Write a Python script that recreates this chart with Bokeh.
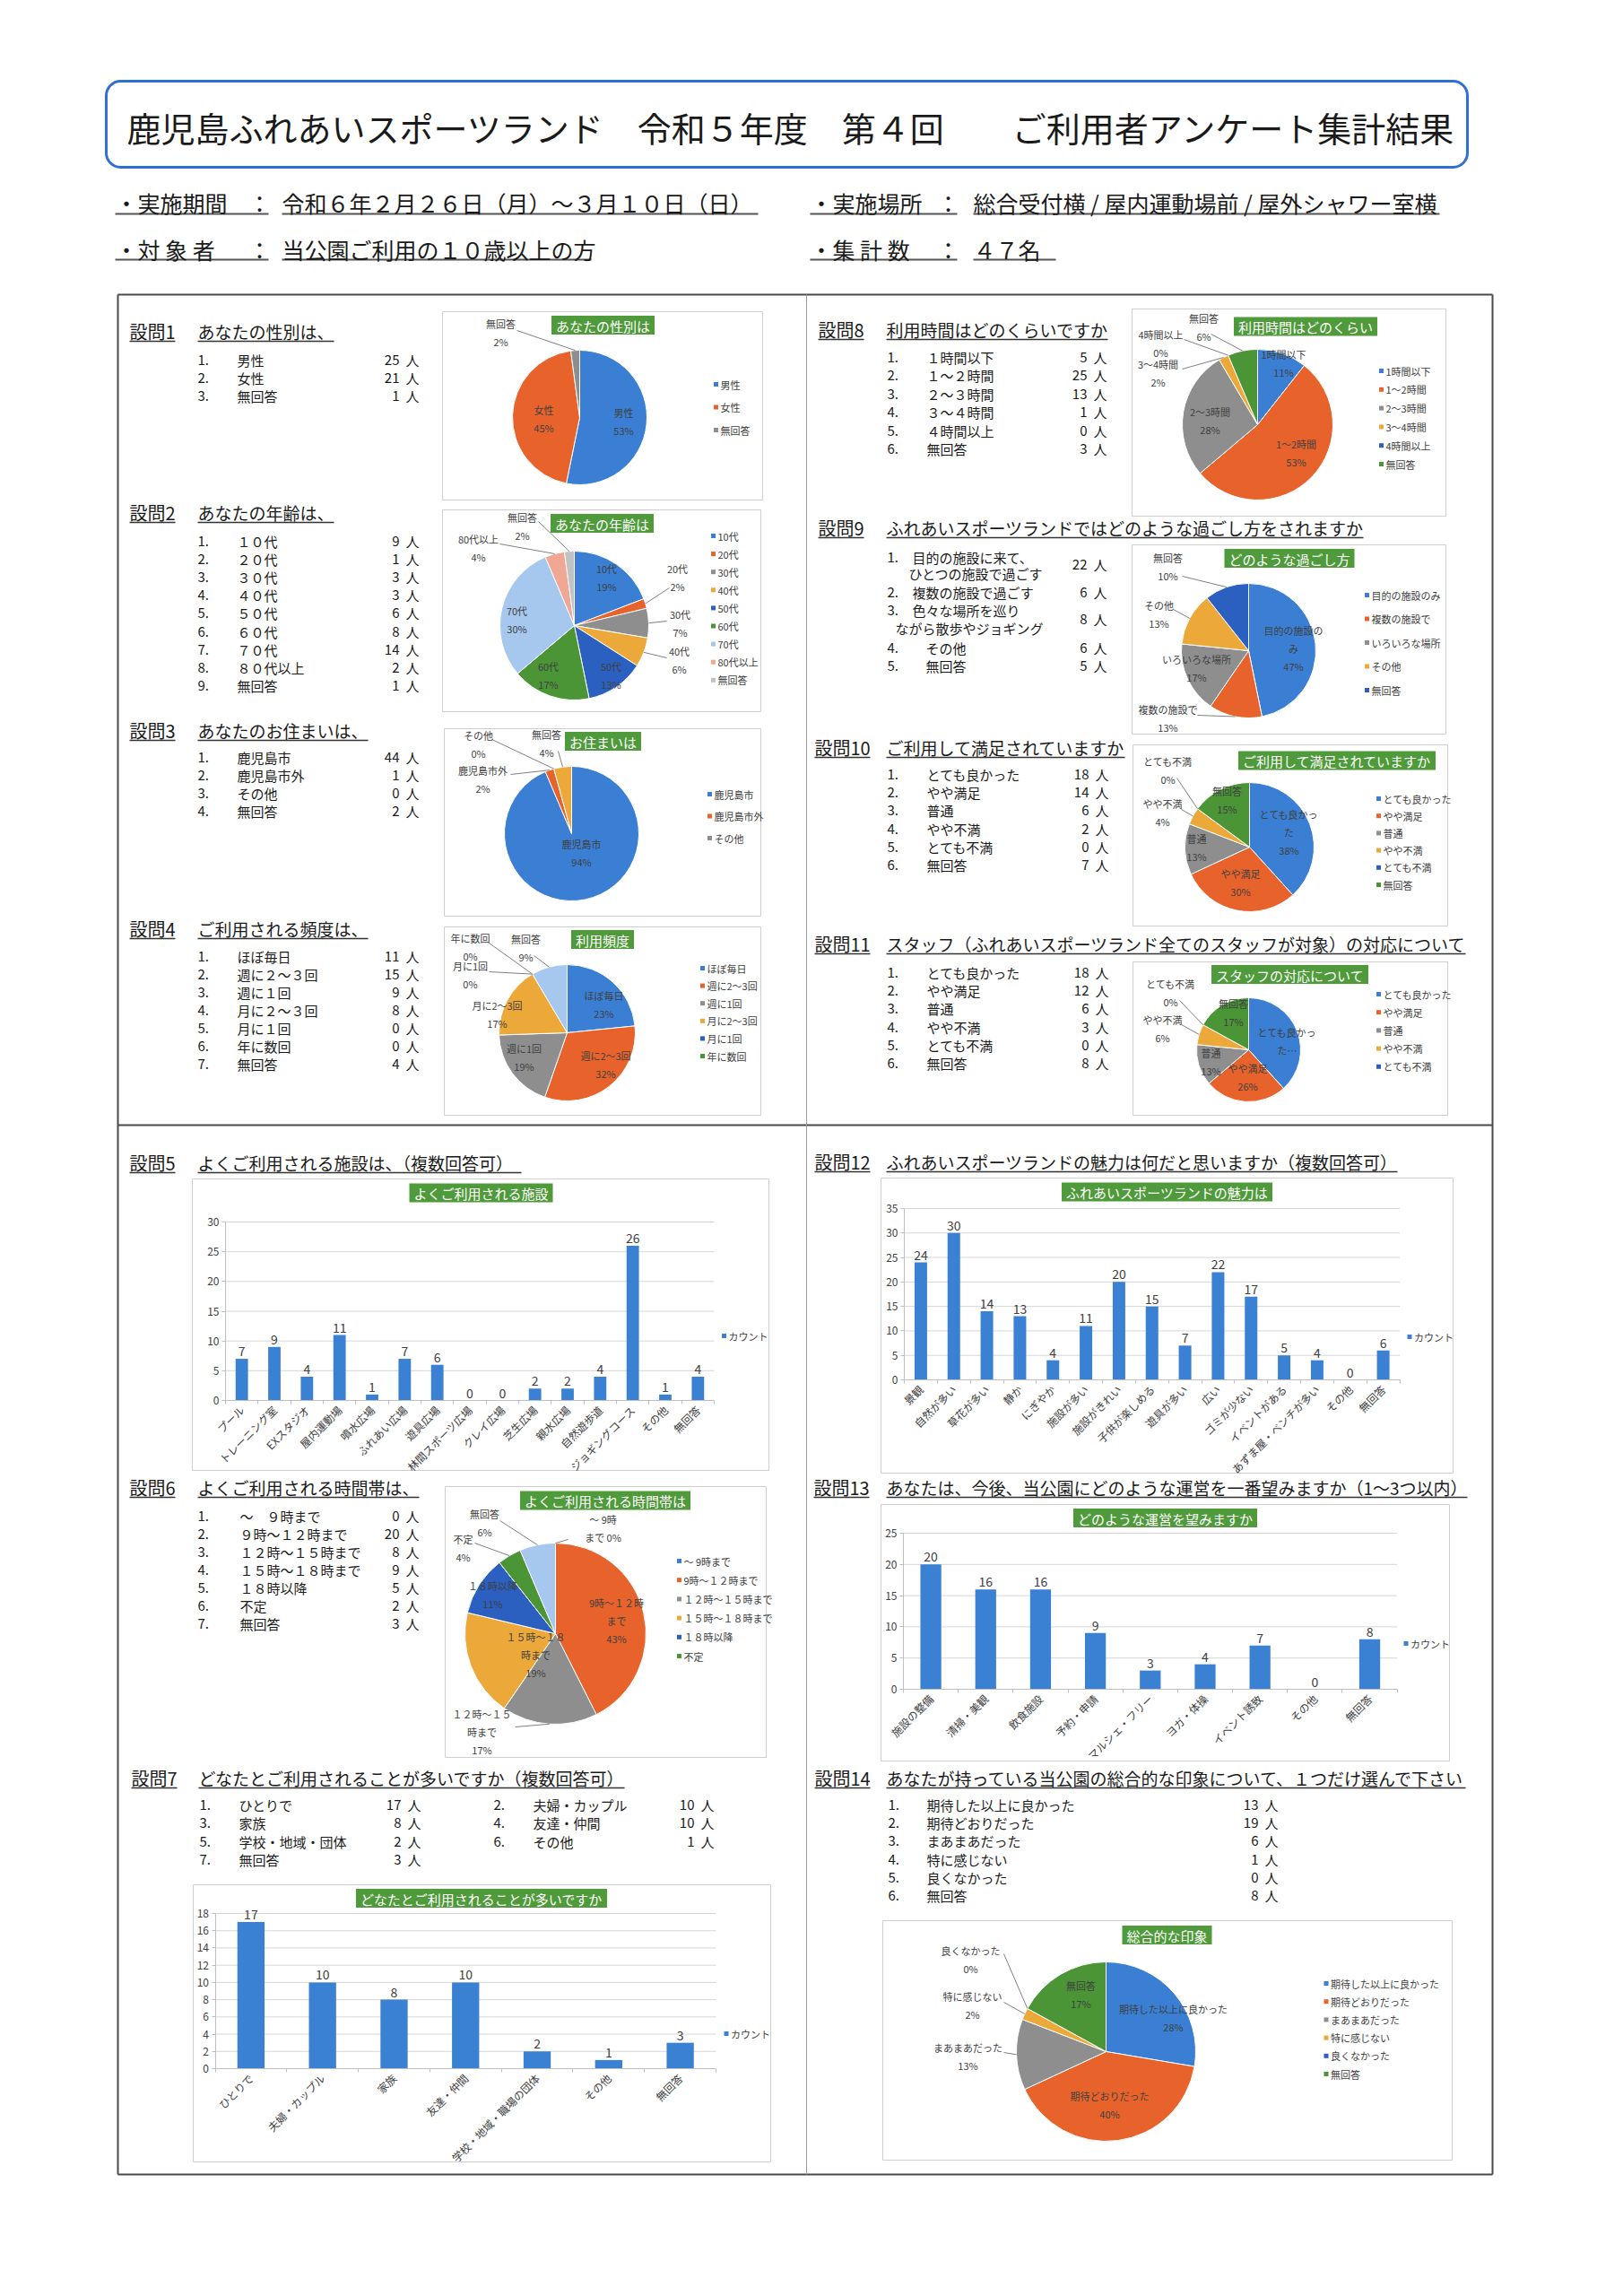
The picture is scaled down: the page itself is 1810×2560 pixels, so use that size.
import math
from collections import defaultdict
from bokeh.plotting import figure
from bokeh.models import Range1d, LinearAxis, FixedTicker, BoxAnnotation, ColumnDataSource
from bokeh.core.properties import value
from bokeh.embed import file_html
from bokeh.resources import INLINE

# ======================= DATA =======================
title_text = "鹿児島ふれあいスポーツランド　令和５年度　第４回　　ご利用者アンケート集計結果"
info_labels = ["・実施期間", "・対 象 者", "・実施場所", "・集 計 数"]
info_values = ["令和６年２月２６日（月）～３月１０日（日）", "当公園ご利用の１０歳以上の方",
               "総合受付横 / 屋内運動場前 / 屋外シャワー室横", "４７名"]

q_heads = {
    "q1": ("設問1", "あなたの性別は、"),
    "q2": ("設問2", "あなたの年齢は、"),
    "q3": ("設問3", "あなたのお住まいは、"),
    "q4": ("設問4", "ご利用される頻度は、"),
    "q5": ("設問5", "よくご利用される施設は、（複数回答可）"),
    "q6": ("設問6", "よくご利用される時間帯は、"),
    "q7": ("設問7", "どなたとご利用されることが多いですか（複数回答可）"),
    "q8": ("設問8", "利用時間はどのくらいですか"),
    "q9": ("設問9", "ふれあいスポーツランドではどのような過ごし方をされますか"),
    "q10": ("設問10", "ご利用して満足されていますか"),
    "q11": ("設問11", "スタッフ（ふれあいスポーツランド全てのスタッフが対象）の対応について"),
    "q12": ("設問12", "ふれあいスポーツランドの魅力は何だと思いますか（複数回答可）"),
    "q13": ("設問13", "あなたは、今後、当公園にどのような運営を一番望みますか（1～3つ以内）"),
    "q14": ("設問14", "あなたが持っている当公園の総合的な印象について、１つだけ選んで下さい"),
}

chart_titles = {
    "q1": "あなたの性別は", "q2": "あなたの年齢は", "q3": "お住まいは", "q4": "利用頻度",
    "q5": "よくご利用される施設", "q6": "よくご利用される時間帯は",
    "q7": "どなたとご利用されることが多いですか", "q8": "利用時間はどのくらい",
    "q9": "どのような過ごし方", "q10": "ご利用して満足されていますか",
    "q11": "スタッフの対応について", "q12": "ふれあいスポーツランドの魅力は",
    "q13": "どのような運営を望みますか", "q14": "総合的な印象",
}

q1_labels = ["男性", "女性", "無回答"]
q1_counts = [25, 21, 1]

q2_items = ["１０代", "２０代", "３０代", "４０代", "５０代", "６０代", "７０代", "８０代以上", "無回答"]
q2_labels = ["10代", "20代", "30代", "40代", "50代", "60代", "70代", "80代以上", "無回答"]
q2_counts = [9, 1, 3, 3, 6, 8, 14, 2, 1]

q3_labels = ["鹿児島市", "鹿児島市外", "その他", "無回答"]
q3_counts = [44, 1, 0, 2]

q4_items = ["ほぼ毎日", "週に２～３回", "週に１回", "月に２～３回", "月に１回", "年に数回", "無回答"]
q4_labels = ["ほぼ毎日", "週に2～3回", "週に1回", "月に2～3回", "月に1回", "年に数回", "無回答"]
q4_counts = [11, 15, 9, 8, 0, 0, 4]

q5_cats = ["プール", "トレーニング室", "EXスタジオ", "屋内運動場", "噴水広場", "ふれあい広場", "遊具広場",
           "林間スポーツ広場", "クレイ広場", "芝生広場", "親水広場", "自然遊歩道", "ジョギングコース",
           "その他", "無回答"]
q5_counts = [7, 9, 4, 11, 1, 7, 6, 0, 0, 2, 2, 4, 26, 1, 4]

q6_items = ["～　９時まで", "９時～１２時まで", "１２時～１５時まで", "１５時～１８時まで", "１８時以降", "不定", "無回答"]
q6_labels = ["～ 9時まで", "9時～１２時まで", "１２時～１５時まで", "１５時～１８時まで", "１８時以降", "不定", "無回答"]
q6_counts = [0, 20, 8, 9, 5, 2, 3]

q7_items = ["ひとりで", "夫婦・カップル", "家族", "友達・仲間", "学校・地域・団体", "その他", "無回答"]
q7_cats = ["ひとりで", "夫婦・カップル", "家族", "友達・仲間", "学校・地域・職場の団体", "その他", "無回答"]
q7_counts = [17, 10, 8, 10, 2, 1, 3]

q8_items = ["１時間以下", "１～２時間", "２～３時間", "３～４時間", "４時間以上", "無回答"]
q8_labels = ["1時間以下", "1～2時間", "2～3時間", "3～4時間", "4時間以上", "無回答"]
q8_counts = [5, 25, 13, 1, 0, 3]

q9_items = ["目的の施設に来て、\nひとつの施設で過ごす", "複数の施設で過ごす", "色々な場所を巡り\nながら散歩やジョギング", "その他", "無回答"]
q9_labels = ["目的の施設のみ", "複数の施設で", "いろいろな場所", "その他", "無回答"]
q9_counts = [22, 6, 8, 6, 5]

q10_labels = ["とても良かった", "やや満足", "普通", "やや不満", "とても不満", "無回答"]
q10_counts = [18, 14, 6, 2, 0, 7]

q11_labels = ["とても良かった", "やや満足", "普通", "やや不満", "とても不満", "無回答"]
q11_counts = [18, 12, 6, 3, 0, 8]

q12_cats = ["景観", "自然が多い", "草花が多い", "静か", "にぎやか", "施設が多い", "施設がきれい",
            "子供が楽しめる", "遊具が多い", "広い", "ゴミが少ない", "イベントがある",
            "あずま屋・ベンチが多い", "その他", "無回答"]
q12_counts = [24, 30, 14, 13, 4, 11, 20, 15, 7, 22, 17, 5, 4, 0, 6]

q13_cats = ["施設の整備", "清掃・美観", "飲食施設", "予約・申請", "マルシェ・フリー", "ヨガ・体操",
            "イベント誘致", "その他", "無回答"]
q13_counts = [20, 16, 16, 9, 3, 4, 7, 0, 8]

q14_labels = ["期待した以上に良かった", "期待どおりだった", "まあまあだった", "特に感じない", "良くなかった", "無回答"]
q14_counts = [13, 19, 6, 1, 0, 8]

bar_legend_label = "カウント"
unit = "人"

# ======================= STYLE / LAYOUT =======================
FONT = "Noto Sans CJK JP"
TEXT = "#1a1a1a"
LABEL = "#404040"
GREEN = "#4f9a3a"
BAR = "#3a80d3"
PIE_COLORS = ["#3a7fd3", "#e8632b", "#8e8e8e", "#eda83a", "#2b5fc0", "#4b9537",
              "#a6c7ee", "#f0a794", "#c2c2c2"]

W, H = 1794, 2544
X0, Y0 = 0, 0
X1, Y1 = X0 + W, Y0 + H


def Y(py):
    return (Y0 + Y1) - py


PIE_LAYOUT = {
    "q1": dict(box=(493, 347, 850, 557), title_c=(672, 362), center=(646, 465), r=75,
               legend=(798, 428, 25.5), legend_n=3,
               labels=[(695, 469), (606, 466), (558, 370)], leaders={2: (576, 368)}),
    "q2": dict(box=(493, 568, 848, 793), title_c=(671, 583), center=(640, 697), r=83,
               legend=(795, 597, 20.1), legend_n=9,
               labels=[(676, 643), (755, 643), (758, 694), (757, 735), (681, 752), (611, 752),
                       (576, 690), (533, 610), (582, 586)],
               leaders={1: (746, 655), 2: (743, 692), 3: (743, 733), 7: (557, 606), 8: (600, 581)}),
    "q3": dict(box=(495, 812, 848, 1021), title_c=(672, 826), center=(637, 929), r=75,
               legend=(791, 885, 24.5), legend_n=3,
               labels=[(648, 950), (538, 868), (533, 829), (609, 828)],
               leaders={1: (569, 863), 2: (548, 824), 3: (622, 837)}),
    "q4": dict(box=(495, 1033, 848, 1243), title_c=(671.5, 1047), center=(632, 1151), r=76,
               legend=(783, 1079, 19.6), legend_n=6,
               labels=[(673, 1119), (675, 1186), (584, 1178), (554, 1130), (524, 1086),
                       (524, 1055), (586, 1056)],
               leaders={4: (545, 1083), 5: (545, 1051), 6: (595, 1065)}),
    "q6": dict(box=(496, 1657, 854, 1959), title_c=(674.5, 1672.5), center=(619, 1821), r=101,
               legend=(757, 1740, 21.2), legend_n=6, wrap=6,
               override={0: "～ 9時\nまで {p}%"},
               labels=[(672, 1703), (687, 1806), (537, 1930), (597, 1844), (549, 1777),
                       (516, 1725), (540, 1697)],
               leaders={0: (633, 1716), 2: (574, 1925), 5: (529, 1720), 6: (557, 1695)}),
    "q8": dict(box=(1262, 344, 1612, 575), title_c=(1455.5, 363.5), center=(1402, 473), r=84,
               legend=(1540, 413, 20.8), legend_n=6,
               labels=[(1431, 404), (1445, 504), (1349, 468), (1291, 415), (1294, 382), (1342, 364)],
               leaders={3: (1318, 411), 4: (1320, 378), 5: (1350, 372)}),
    "q9": dict(box=(1262, 607, 1612, 818), title_c=(1437.5, 622), center=(1392, 725), r=75,
               legend=(1524, 663, 26.5), legend_n=5,
               override={0: "目的の施設の\nみ\n{p}%"},
               labels=[(1442, 722), (1302, 800), (1334, 744), (1292, 684), (1302, 631)],
               leaders={1: (1335, 797), 3: (1308, 679), 4: (1318, 642)}),
    "q10": dict(box=(1263, 830, 1614, 1032), title_c=(1490.5, 847.5), center=(1393, 944), r=72,
                legend=(1537, 890, 19.2), legend_n=6, wrap=6,
                labels=[(1437, 927), (1383, 983), (1334, 944), (1296, 905), (1302, 858), (1368, 891)],
                leaders={3: (1317, 902), 4: (1312, 867)}),
    "q11": dict(box=(1263, 1072, 1614, 1243), title_c=(1438, 1086), center=(1392, 1170), r=58,
                legend=(1537, 1108, 20.2), legend_n=5, wrap=6,
                override={0: "とても良かっ\nた…"},
                labels=[(1435, 1160), (1391, 1200), (1350, 1183), (1296, 1146), (1305, 1106), (1375, 1128)],
                leaders={3: (1317, 1142), 4: (1315, 1115)}),
    "q14": dict(box=(984, 2141, 1619, 2408), title_c=(1301, 2157), center=(1233, 2287), r=100,
                legend=(1478.5, 2211, 20.2), legend_n=6,
                labels=[(1308, 2249), (1237, 2346), (1079, 2292), (1084, 2235), (1082, 2184), (1205, 2223)],
                leaders={2: (1119, 2288), 3: (1119, 2232), 4: (1119, 2178)}),
}

BAR_LAYOUT = {
    "q5": dict(box=(214, 1314, 857, 1639), title_c=(536, 1329.5), plot=(251, 1362, 796, 1561),
               vmax=30, step=5, legend=(807, 1489)),
    "q7": dict(box=(215, 2101, 859, 2410), title_c=(536.5, 2116), plot=(239.5, 2133, 798, 2306),
               vmax=18, step=2, legend=(809.5, 2267)),
    "q12": dict(box=(982, 1313, 1620, 1642), title_c=(1301, 1328.5), plot=(1008, 1347, 1560.5, 1538),
                vmax=35, step=5, legend=(1571.5, 1490)),
    "q13": dict(box=(982, 1677, 1616, 1963), title_c=(1299, 1692), plot=(1007, 1709, 1557.6, 1883),
                vmax=25, step=5, legend=(1567.5, 1832)),
}

HEAD_POS = {
    "q1": (144, 220, 369), "q2": (144, 220, 571), "q3": (144, 220, 814), "q4": (144, 220, 1035),
    "q5": (144, 220, 1296), "q6": (144, 220, 1658), "q7": (146, 221, 1982),
    "q8": (912, 988, 367), "q9": (912, 988, 588), "q10": (908, 988, 833), "q11": (908, 988, 1052),
    "q12": (908, 988, 1295), "q13": (907, 988, 1658), "q14": (908, 988, 1982),
}

# ======================= FIGURE =======================
p = figure(width=W, height=H, x_range=Range1d(X0, X1), y_range=Range1d(Y0, Y1),
           output_backend="svg", toolbar_location=None, tools="",
           x_axis_type=None, y_axis_type=None, min_border=0, title=None)
p.outline_line_color = None
p.background_fill_color = "white"
p.border_fill_color = "white"

TXT = defaultdict(lambda: {"x": [], "y": [], "text": []})
LNS = defaultdict(lambda: {"x0": [], "y0": [], "x1": [], "y1": []})
BOXES = {"l": [], "r": [], "t": [], "b": []}
GRECT = {"x": [], "y": [], "w": [], "h": []}
SQ = {"x": [], "y": [], "c": []}
EXTRA_X, EXTRA_Y = {}, {}


def T(x, y, s, size, color=TEXT, align="left", baseline="middle", style="normal", lh=1.2):
    d = TXT[(size, color, align, baseline, style, lh)]
    d["x"].append(x)
    d["y"].append(Y(y))
    d["text"].append(s)


def LN(x0, y0, x1, y1, color="#555555", width=1.0):
    d = LNS[(color, width)]
    d["x0"].append(x0); d["y0"].append(Y(y0)); d["x1"].append(x1); d["y1"].append(Y(y1))


def est_w(s, size):
    w = 0.0
    for ch in s:
        if ch.isdigit() and ord(ch) < 128:
            w += 0.55
        elif ch == " ":
            w += 0.23
        elif ch in ".,":
            w += 0.28
        elif ord(ch) < 128:
            w += 0.6
        else:
            w += 1.0
    return w * size


def pct_round(counts):
    tot = sum(counts)
    raw = [c * 100.0 / tot for c in counts]
    fl = [math.floor(r) for r in raw]
    rem = 100 - sum(fl)
    order = sorted(range(len(counts)), key=lambda i: -(raw[i] - fl[i]))
    for i in order[:rem]:
        fl[i] += 1
    return fl


def wrap(s, w):
    return "\n".join(s[i:i + w] for i in range(0, len(s), w))


def chart_box(box, title, tc):
    l, t, r, b = box
    BOXES["l"].append(l); BOXES["r"].append(r); BOXES["t"].append(Y(t)); BOXES["b"].append(Y(b))
    w = len(title) * 15 + 10
    GRECT["x"].append(tc[0]); GRECT["y"].append(Y(tc[1])); GRECT["w"].append(w); GRECT["h"].append(21)
    T(tc[0], tc[1] + 0.5, title, 15, color="white", align="center")


def heading(key):
    num, text = q_heads[key]
    xn, xt, y = HEAD_POS[key]
    T(xn, y, num, 20)
    T(xt, y, text, 19)
    LN(xn, y + 11, xn + est_w(num, 20), y + 11, "#333333", 1.5)
    LN(xt, y + 11, xt + est_w(text, 19), y + 11, "#333333", 1.5)


def count_text(xr, y, c):
    T(xr - 22, y, str(c), 15, align="right")
    T(xr, y, unit, 15, align="right")


def items(labels, counts, y0, step, xn, xl, xr):
    for i, (lab, c) in enumerate(zip(labels, counts)):
        y = y0 + i * step
        T(xn, y, f"{i + 1}.", 15)
        T(xl, y, lab, 15)
        count_text(xr, y, c)


def pie(key, labels, counts):
    L = PIE_LAYOUT[key]
    chart_box(L["box"], chart_titles[key], L["title_c"])
    cx, cy = L["center"]
    r = L["r"]
    tot = float(sum(counts))
    pcts = pct_round(counts)
    starts, ends, mids = [], [], []
    cum = 0
    for c in counts:
        f0 = cum / tot
        cum += c
        f1 = cum / tot
        starts.append(math.pi / 2 - 2 * math.pi * f0)
        ends.append(math.pi / 2 - 2 * math.pi * f1)
        mids.append(math.pi / 2 - math.pi * (f0 + f1))
    keep = [i for i, c in enumerate(counts) if c > 0]
    src = ColumnDataSource(dict(
        x=[cx] * len(keep), y=[Y(cy)] * len(keep),
        s=[starts[i] for i in keep], e=[ends[i] for i in keep],
        c=[PIE_COLORS[i] for i in keep]))
    p.wedge(x="x", y="y", radius=r, radius_units="screen", start_angle="s", end_angle="e",
            direction="clock", fill_color="c", line_color="white", line_width=1, source=src)
    ov = L.get("override", {})
    wr = L.get("wrap", 99)
    for i, (lx, ly) in enumerate(L["labels"]):
        s = ov[i].format(p=pcts[i]) if i in ov else wrap(labels[i], wr) + f"\n{pcts[i]}%"
        T(lx, ly, s, 11, color=LABEL, align="center", lh=1.25)
    for i, (sx, sy) in L["leaders"].items():
        ex = cx + r * math.cos(mids[i])
        ey = cy - r * math.sin(mids[i])
        LN(sx, sy, ex, ey, "#7f7f7f", 1)
    gx, gy0, gstep = L["legend"]
    for i in range(L["legend_n"]):
        yy = gy0 + i * gstep
        SQ["x"].append(gx); SQ["y"].append(Y(yy)); SQ["c"].append(PIE_COLORS[i])
        T(gx + 5, yy, labels[i], 11, color=LABEL)


def bar_chart(key, cats, counts):
    L = BAR_LAYOUT[key]
    chart_box(L["box"], chart_titles[key], L["title_c"])
    n = len(cats)
    pl, pt, pr, pb = L["plot"]
    vmax, step = L["vmax"], L["step"]
    kx = n / (pr - pl)
    ky = vmax / (pb - pt)
    xn, yn = key + "_x", key + "_y"
    EXTRA_X[xn] = Range1d(-0.5 - (pl - X0) * kx, n - 0.5 + (X1 - pr) * kx)
    EXTRA_Y[yn] = Range1d(-(Y1 - pb) * ky, vmax + (pt - Y0) * ky)
    ticks = list(range(0, vmax + 1, step))
    grid = [t for t in ticks if t > 0]
    p.segment(x0=[-0.5] * len(grid), x1=[n - 0.5] * len(grid), y0=grid, y1=grid,
              x_range_name=xn, y_range_name=yn, line_color="#d6d6d6", line_width=1)
    idx = list(range(n))
    p.vbar(x=idx, top=counts, bottom=0, width=0.38, x_range_name=xn, y_range_name=yn,
           fill_color=BAR, line_color=None)
    p.text(x=idx, y=counts, text=[str(c) for c in counts], x_range_name=xn, y_range_name=yn,
           y_offset=-3, text_align="center", text_baseline="bottom", text_font=value(FONT),
           text_font_size="14px", text_color=LABEL)
    yax = LinearAxis(x_range_name=xn, y_range_name=yn, fixed_location=-0.5, bounds=(0, vmax),
                     ticker=FixedTicker(ticks=ticks, minor_ticks=[]))
    yax.axis_line_color = "#bfbfbf"
    yax.major_tick_line_color = "#bfbfbf"
    yax.major_tick_out = 4
    yax.major_tick_in = 0
    yax.minor_tick_line_color = None
    yax.major_label_text_font = FONT
    yax.major_label_text_font_size = "12px"
    yax.major_label_text_color = LABEL
    yax.major_label_standoff = 3
    p.add_layout(yax, "left")
    xax = LinearAxis(x_range_name=xn, y_range_name=yn, fixed_location=0, bounds=(-0.5, n - 0.5),
                     ticker=FixedTicker(ticks=idx, minor_ticks=[i - 0.5 for i in range(n + 1)]))
    xax.major_label_overrides = {i: c for i, c in enumerate(cats)}
    xax.major_label_orientation = math.pi / 4
    xax.axis_line_color = "#bfbfbf"
    xax.major_tick_line_color = None
    xax.major_tick_out = 0
    xax.major_tick_in = 0
    xax.minor_tick_line_color = "#bfbfbf"
    xax.minor_tick_out = 4
    xax.minor_tick_in = 0
    xax.major_label_text_font = FONT
    xax.major_label_text_font_size = "12px"
    xax.major_label_text_color = LABEL
    xax.major_label_standoff = 4
    p.add_layout(xax, "below")
    lx, ly = L["legend"]
    SQ["x"].append(lx); SQ["y"].append(Y(ly)); SQ["c"].append(BAR)
    T(lx + 5, ly, bar_legend_label, 11, color=LABEL)


# ======================= BUILD =======================
# header
p.add_layout(BoxAnnotation(left=118, right=1636, top=Y(90), bottom=Y(186), fill_color=None,
                           line_color="#2f6fd6", line_alpha=1.0, line_width=3, border_radius=16))
T(141, 141, title_text, 38)

info_pos = [(128, 289, 314, 225), (128, 289, 314, 277), (903, 1057, 1085, 225), (903, 1057, 1085, 277)]
info_lines = [((128, 299), (314, 845), 238), ((128, 299), (314, 659), 289),
              ((903, 1067), (1085, 1605), 238), ((903, 1067), (1085, 1177), 289)]
for lab, val, (xl, xc, xv, yy), (u1, u2, uy) in zip(info_labels, info_values, info_pos, info_lines):
    T(xl, yy, lab, 25)
    T(xc, yy, "：", 25, align="center")
    T(xv, yy, val, 25)
    LN(u1[0], uy, u1[1], uy, "#555555", 2)
    LN(u2[0], uy, u2[1], uy, "#555555", 2)

# outer frame
FR = (131, 328, 1664, 2424)
LN(FR[0], FR[1], FR[2], FR[1], "#4a4a4a", 2)
LN(FR[0], FR[3], FR[2], FR[3], "#4a4a4a", 2)
LN(FR[0], FR[1], FR[0], FR[3], "#4a4a4a", 2)
LN(FR[2], FR[1], FR[2], FR[3], "#4a4a4a", 2)
LN(FR[0], 1254, FR[2], 1254, "#4a4a4a", 2)
LN(899, FR[1], 899, FR[3], "#9a9a9a", 1)

for k in q_heads:
    heading(k)

# item lists
items(q1_labels, q1_counts, 401, 20, 220, 264, 467)
items(q2_items, q2_counts, 603, 20.1, 220, 264, 467)
items(q3_labels, q3_counts, 844, 20, 220, 264, 467)
items(q4_items, q4_counts, 1066, 20, 220, 264, 467)
items(q6_items, q6_counts, 1690, 20, 220, 267, 467)
items(q8_items, q8_counts, 398, 20.4, 989, 1033, 1234)
items(q10_labels, q10_counts, 863, 20.2, 989, 1033, 1236)
items(q11_labels, q11_counts, 1084, 20.2, 989, 1033, 1236)
items(q14_labels, q14_counts, 2012, 20.2, 990, 1033, 1425)

# Q7 items in two columns
q7_rows = [2012, 2032, 2053, 2073]
q7_cols = [(222, 266, 469), (550, 594, 796)]
for i, (lab, c) in enumerate(zip(q7_items, q7_counts)):
    xn, xl, xr = q7_cols[i % 2]
    yy = q7_rows[i // 2]
    T(xn, yy, f"{i + 1}.", 15)
    T(xl, yy, lab, 15)
    count_text(xr, yy, c)

# Q9 items (multi-line)
q9_rows = [(629, [(1017, 621), (1013, 639)]), (660, [(1017, 660)]),
           (690, [(1017, 680), (998, 700)]), (722, [(1032, 722)]), (742, [(1032, 742)])]
for i, (lab, c) in enumerate(zip(q9_items, q9_counts)):
    yc, lines = q9_rows[i]
    T(989, lines[0][1], f"{i + 1}.", 15)
    for (lx, ly), s in zip(lines, lab.split("\n")):
        T(lx, ly, s, 15)
    count_text(1234, yc, c)

# chart boxes first (drawn under everything)
box_r = p.quad(left=[], right=[], top=[], bottom=[], fill_color=None, line_color="#cfcfcf", line_width=1)

pie("q1", q1_labels, q1_counts)
pie("q2", q2_labels, q2_counts)
pie("q3", q3_labels, q3_counts)
pie("q4", q4_labels, q4_counts)
pie("q6", q6_labels, q6_counts)
pie("q8", q8_labels, q8_counts)
pie("q9", q9_labels, q9_counts)
pie("q10", q10_labels, q10_counts)
pie("q11", q11_labels, q11_counts)
pie("q14", q14_labels, q14_counts)

bar_chart("q5", q5_cats, q5_counts)
bar_chart("q7", q7_cats, q7_counts)
bar_chart("q12", q12_cats, q12_counts)
bar_chart("q13", q13_cats, q13_counts)

box_r.data_source.data = dict(left=BOXES["l"], right=BOXES["r"], top=BOXES["t"], bottom=BOXES["b"])

p.extra_x_ranges = EXTRA_X
p.extra_y_ranges = EXTRA_Y

for (color, width), d in LNS.items():
    p.segment(x0="x0", y0="y0", x1="x1", y1="y1", source=ColumnDataSource(d),
              line_color=color, line_width=width)

p.rect(x="x", y="y", width="w", height="h", source=ColumnDataSource(GRECT),
       fill_color=GREEN, line_color=None)
p.scatter(x="x", y="y", marker="square", size=5, source=ColumnDataSource(SQ),
          fill_color="c", line_color=None)

for (size, color, align, baseline, style, lh), d in TXT.items():
    p.text(x="x", y="y", text="text", source=ColumnDataSource(d), text_font=value(FONT),
           text_font_size=f"{size}px", text_color=color, text_align=align,
           text_baseline=baseline, text_font_style=style, text_line_height=lh)

open("out.html", "w").write(file_html(p, INLINE))
